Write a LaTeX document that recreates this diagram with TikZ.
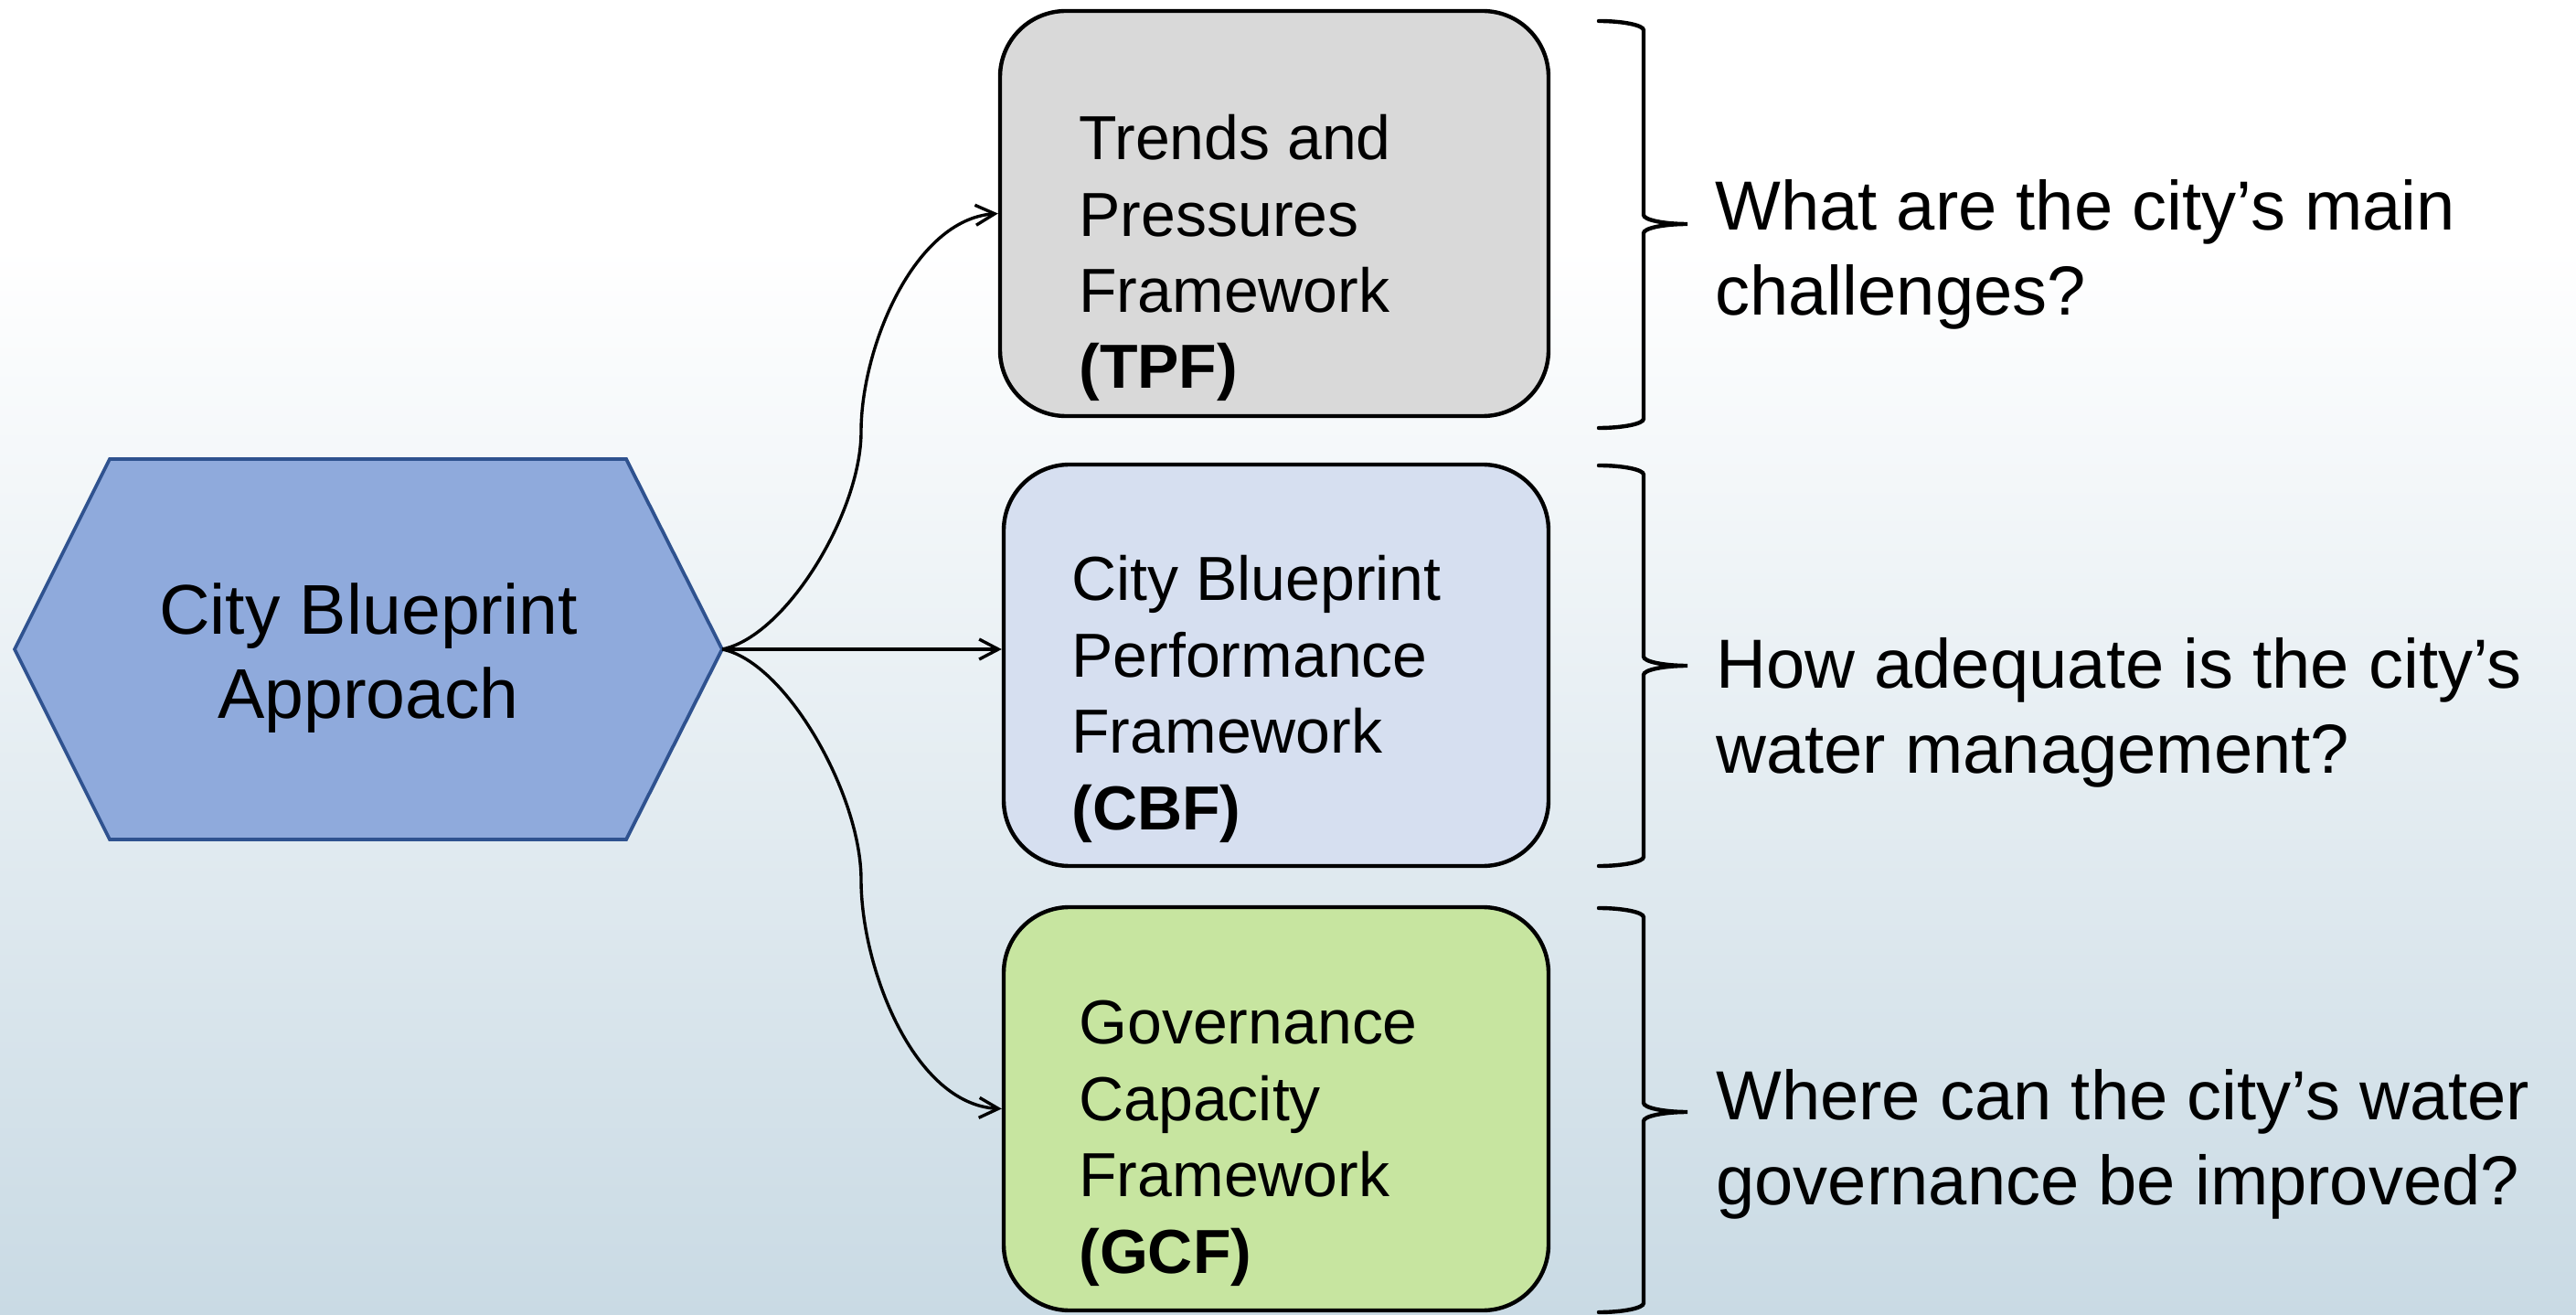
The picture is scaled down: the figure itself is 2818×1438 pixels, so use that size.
\documentclass[tikz,border=0pt]{standalone}
\usepackage{fontspec}
\setmainfont{Liberation Sans}
\usetikzlibrary{arrows.meta}
\definecolor{hexfill}{RGB}{143,170,220}
\definecolor{hexline}{RGB}{47,82,143}
\definecolor{tpffill}{RGB}{217,217,217}
\definecolor{cbffill}{RGB}{214,223,240}
\definecolor{gcffill}{RGB}{199,229,160}
\definecolor{bgbottom}{RGB}{201,218,228}
% right curly bracket: top y, middle y, bottom y (pixels, downwards)
\newcommand\qbracket[3]{%
  \draw[bracket] (1749,-#1) .. controls (1775,-#1) and (1798,-#1-4.5) .. (1798,-#1-10)
    -- (1798,-#2+10) .. controls (1798,-#2+4.5) and (1820,-#2) .. (1846,-#2)
    .. controls (1820,-#2) and (1798,-#2-4.5) .. (1798,-#2-10)
    -- (1798,-#3+10) .. controls (1798,-#3+4.5) and (1775,-#3) .. (1749,-#3);}
\begin{document}
\begin{tikzpicture}[x=0.5pt,y=0.5pt,
  framebox/.style={draw=black, line width=2.2pt, rounded corners=36pt,
    minimum width=298pt, inner sep=0pt},
  boxtext/.style={anchor=base west, align=left, inner sep=0pt,
    font=\fontsize{34}{41.7}\selectfont},
  question/.style={anchor=base west, align=left, inner sep=0pt,
    font=\fontsize{38}{46.5}\selectfont},
  link/.style={line width=1.7pt, -{Straight Barb[length=10.5pt,width=11pt]}},
  bracket/.style={line width=2.2pt, line cap=round}]

% background
\useasboundingbox (0,0) rectangle (2818,-1438);
\fill[white] (0,0) rectangle (2818,-1438);
\shade[top color=white, bottom color=bgbottom] (0,-270) rectangle (2818,-1438);

% central hexagon
\filldraw[fill=hexfill, draw=hexline, line width=1.9pt, line join=miter]
  (16,-710) -- (120,-502) -- (685,-502) -- (790,-710) -- (685,-918) -- (120,-918) -- cycle;
\coordinate (hexE) at (790,-710);
\node[anchor=base, align=center, inner sep=0pt,
  font=\fontsize{38.5}{46}\selectfont] (hex) at (403,-785) {City Blueprint\\Approach};

% framework boxes
\node[framebox, fill=tpffill, minimum width=300pt, minimum height=221.5pt] (tpf) at (1394,-233.5) {};
\node[framebox, fill=cbffill, minimum height=219.5pt] (cbf) at (1396,-727.5) {};
\node[framebox, fill=gcffill, minimum height=220.5pt] (gcf) at (1396,-1212.5) {};

% box texts, anchored at the baseline of their last line
\node[boxtext] (tpft) at (1180,-425) {Trends and\\Pressures\\Framework\\\textbf{(TPF)}};
\node[boxtext] (cbft) at (1172,-907) {City Blueprint\\Performance\\Framework\\\textbf{(CBF)}};
\node[boxtext] (gcft) at (1180,-1392) {Governance\\Capacity\\Framework\\\textbf{(GCF)}};

% connectors
\coordinate (upbend) at (942,-472);
\coordinate (downbend) at (942,-962);
\draw[link] (hexE) .. controls (860,-696) and (942,-560) .. (upbend)
  .. controls (942,-380) and (1000,-240) .. (tpf.west);
\draw[link] (hexE) -- (hexE -| cbf.west);
\draw[link] (hexE) .. controls (860,-724) and (942,-869) .. (downbend)
  .. controls (942,-1059) and (1000,-1208) .. (gcf.west);

% brackets
\qbracket{23}{245}{468}
\qbracket{509}{728}{947}
\qbracket{993}{1216}{1435}

% questions
\node[question] (q1) at (1876,-345) {What are the city’s main\\challenges?};
\node[question] (q2) at (1877,-845) {How adequate is the city’s\\water management?};
\node[question] (q3) at (1877,-1317) {Where can the city’s water\\governance be improved?};
\end{tikzpicture}
\end{document}
